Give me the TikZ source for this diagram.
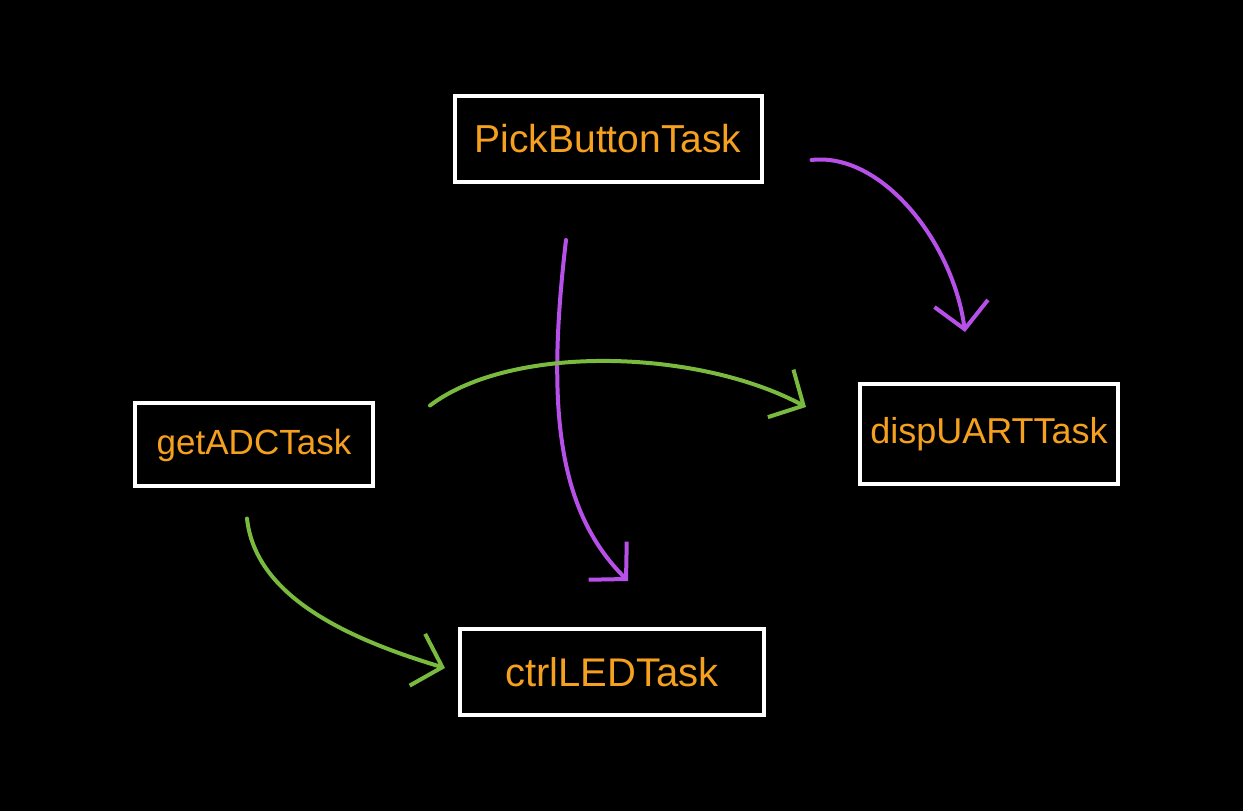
\documentclass[tikz,border=0pt]{standalone}
\usepackage{fontspec}
\setmainfont{Liberation Sans}
\usetikzlibrary{arrows.meta}
\definecolor{taskorange}{RGB}{245,160,30}
\definecolor{flowpurple}{RGB}{182,80,232}
\definecolor{flowgreen}{RGB}{122,186,62}

\begin{document}
\begin{tikzpicture}[
  x=1pt, y=1pt,
  task/.style={rectangle, draw=white, line width=4pt, text=taskorange, font=\fontsize{37}{40}\selectfont, inner sep=0pt},
  arrow/.style={-{Straight Barb[length=26pt, width=54pt]}, line width=4pt, line cap=round, line join=round}
]
\fill[black] (0,0) rectangle (1243,811);
\useasboundingbox (0,0) rectangle (1243,811);

\node[task, minimum width=307pt, minimum height=86pt, font=\fontsize{39}{42}\selectfont] (pick) at (608,672) {PickButtonTask};
\node[task, minimum width=238pt, minimum height=83pt, font=\fontsize{35}{38}\selectfont] (adc) at (254,366) {getADCTask};
\node[task, minimum width=258pt, minimum height=100pt, font=\fontsize{36}{39}\selectfont] (disp) at (989,377) {dispUARTTask};
\node[task, minimum width=304pt, minimum height=86pt, font=\fontsize{40}{43}\selectfont] (ctrl) at (612,139) {ctrlLEDTask};

\draw[arrow, flowpurple] ([shift={(48pt,-21pt)}]pick.east) .. controls +(70,8) and +(-12,90) .. ([shift={(-24pt,50pt)}]disp.north);
\draw[arrow, flowpurple] ([shift={(-42pt,-56pt)}]pick.south) .. controls +(-20,-170) and +(-70,70) .. ([shift={(16pt,46pt)}]ctrl.north);
\draw[arrow, flowgreen] ([shift={(55pt,-4pt)}]adc.north east) .. controls +(82,62) and +(-108,58) .. ([shift={(-52pt,27pt)}]disp.west);
\draw[arrow, flowgreen] ([shift={(-7pt,-30pt)}]adc.south) .. controls +(8,-74) and +(-107,32) .. ([shift={(-13pt,4pt)}]ctrl.west);
\end{tikzpicture}
\end{document}
